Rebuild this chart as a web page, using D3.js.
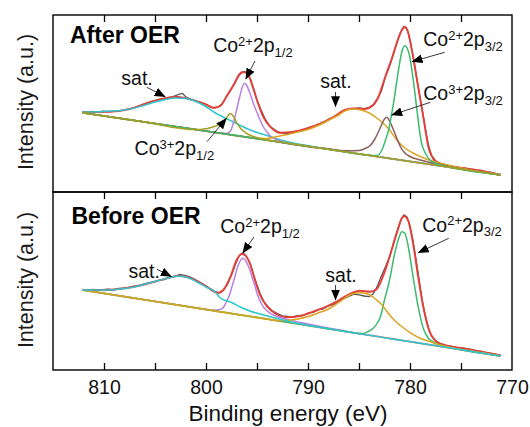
<!DOCTYPE html>
<html>
<head>
<meta charset="utf-8">
<script src="https://cdn.jsdelivr.net/npm/d3@7"></script>
<style>
  html, body { margin: 0; padding: 0; background: #fff; }
  svg { display: block; font-family: "Liberation Sans", Arial, Helvetica, sans-serif; }
</style>
</head>
<body>
<script>
// ---------------- DATA (binding energy eV, intensity a.u.) ----------------
const energyTickLabels = [810, 800, 790, 780, 770];
const energyMinorTicks = [810, 805, 800, 795, 790, 785, 780, 775];

// ----- After OER -----
const afterRaw = [[812.1,80.5],[811.6,79.6],[811.1,80.6],[810.6,79.9],[810.1,80.9],[809.6,80.1],[809.1,80.7],[808.6,81.3],[808.1,81.9],[807.6,83.2],[807.1,84.1],[806.6,85.9],[806.1,87.5],[805.6,89.6],[805.1,91],[804.6,92.6],[804.1,93.6],[803.6,94.5],[803.1,96],[802.6,97.8],[802.3,98.6],[802,95.2],[801.6,93.1],[801.1,91.4],[800.6,90],[800.1,88.1],[799.6,85.6],[799.2,84],[798.8,85.1],[798.4,88.5],[798,95.4],[797.6,101.6],[797.2,108.4],[796.8,116],[796.5,119.2],[796.2,120.6],[795.9,118],[795.6,112],[795.3,102.4],[795,92],[794.6,82],[794.2,73.2],[793.8,66.4],[793.4,63.1],[793,60.4],[792.6,59.2],[792.2,58.4],[791.8,58.8],[791.4,59.4],[791,60.6],[790.5,61.4],[790,64.1],[789.5,65.4],[789,67.6],[788.5,69.8],[788,72.6],[787.5,74.8],[787,78.1],[786.5,81.4],[786,83.1],[785.5,83.4],[785,84.1],[784.5,83.3],[784,84.6],[783.6,87.4],[783.2,93.1],[782.8,101],[782.4,115.6],[782,126],[781.7,135.2],[781.4,146],[781.1,155.2],[780.8,162.2],[780.6,165.6],[780.4,164.2],[780.2,160],[780,151.2],[779.7,136],[779.4,117.2],[779.1,99],[778.8,82.2],[778.5,64],[778.2,47.2],[777.9,37],[777.5,31.2],[777,28.4],[776.5,27.1],[776,25.9],[775.5,25.1],[775,24.4],[774.5,23.4],[774,22.9],[773.5,21.9],[773,21.6],[772.5,20.2],[772,19.6],[771.5,18.1],[771.1,17.6]];
const afterEnvelope = [[812.1,80],[809.6,80.3],[807.6,82.7],[806.3,87],[805,91.3],[803.7,94.3],[803,95.3],[802.1,93.9],[801.1,91.3],[800.1,88],[799.3,84.2],[798.6,86],[798,95.3],[797.3,107],[796.7,118],[796.4,120],[796.1,119.3],[795.85,117],[795.4,104.5],[794.9,88.7],[794.4,75.3],[793.7,65.3],[792.8,59.3],[791.5,60],[790.1,63.7],[788.8,68.5],[787.5,75],[786.4,82],[785.6,83.6],[784.4,83],[783.7,86],[783.1,95],[782.4,116],[781.8,133],[781.3,148.7],[780.8,162],[780.5,165],[780.2,160.3],[779.7,135.3],[779.2,105.3],[778.7,75.3],[778.2,45.3],[777.5,30.8],[776.6,27],[774.6,23.7],[772.6,20.3],[771.1,17]];
const afterBackground = [[812.1,79.2],[806,69.9],[800,60.9],[794,51.8],[788,42.7],[782,33.6],[776,24.6],[771.1,17.1]];
const afterSatHigh = [[812.1,80],[810,80.5],[808,82],[806.3,86],[805,90],[804,92.5],[803,94],[802,93.5],[801,90.5],[800.1,86],[799.3,80.5],[798.6,76.5],[797.3,70],[796,63.5],[795,59.5],[794,56.5],[793,53],[792,50.3],[791,48],[790,46.3],[789,44.5],[788,43],[787,41.3]];
const afterCo2p12 = [[799,59.3],[798,58.6],[797.6,61],[797.4,66],[797.2,73.7],[797,82],[796.7,95.3],[796.4,106],[796.2,108.7],[796,106.5],[795.7,99],[795.36,88.7],[795,79.5],[794.7,72],[794.4,65.5],[794.05,60.3],[793.6,55.3],[792.75,51],[792,49.2],[791,47.3]];
const afterCo3p12 = [[801,62.4],[800.5,62.6],[800,63.2],[799.5,64.5],[799,66],[798.6,67.6],[798.2,71],[797.9,75.5],[797.6,78.6],[797.3,75.5],[797,69.5],[796.6,63.5],[796,58.5],[795.5,56],[795,54.5],[794,52],[793,50.4]];
const afterSatLow = [[796,54.8],[795,53.8],[794,53.5],[793,55.5],[792,57.5],[791,60],[790,62.5],[789,66.5],[788,71.5],[787,77],[786.4,81],[785.6,83],[784.8,82],[784,79],[783,72],[782,62],[781.3,52],[780.5,44],[779.7,39],[779,35.5],[778,31.5],[777,28.7],[776,26.3],[775,24],[774,21.8],[773,20],[772,18.5]];
const afterCo3p32 = [[789,44.2],[788,43.2],[787,41.8],[786,41.2],[785,41.5],[784.4,43.5],[783.9,46.5],[783.5,52],[783.1,60],[782.8,67],[782.5,73],[782.3,74.7],[782,71],[781.7,64],[781.3,54],[780.9,44.5],[780.5,39],[780,35.5],[779,32],[778,29.5],[777,27.2],[776,25],[775,23.1]];
const afterCo2p32 = [[784,36.7],[783.2,36.5],[782.8,41],[782.5,49],[782.1,62],[781.6,90],[781.1,123.7],[780.8,140.3],[780.5,146.3],[780.1,138.7],[779.7,113.7],[779.3,80.3],[778.9,50.3],[778.4,37],[777.9,31],[777,27],[776,24.6]];

// ----- Before OER -----
const beforeRaw = [[812.1,80.5],[811.6,79.7],[811.1,80.6],[810.6,79.8],[810.1,80.4],[809.6,80.8],[809.1,80.2],[808.6,81.5],[808.1,81.8],[807.6,82.6],[807.1,83.8],[806.6,84.2],[806.1,85.8],[805.6,87.2],[805.1,88],[804.6,89.8],[804.1,90.5],[803.6,92.4],[803.1,93.2],[802.6,95.5],[802.1,94.6],[801.6,93.2],[801.1,90.6],[800.6,87.8],[800.1,84.4],[799.6,81.5],[799.1,78.5],[798.7,77.2],[798.3,79.8],[797.9,85.5],[797.5,95],[797.1,106],[796.8,113],[796.5,116.8],[796.2,116],[795.9,111],[795.6,104.5],[795.3,94],[795,85],[794.7,76.5],[794.3,68],[793.9,63],[793.5,59.2],[793,56.5],[792.5,54.2],[792,53.5],[791.5,53],[791,54.3],[790.5,54.5],[790,56.8],[789.5,57.6],[789,60.4],[788.5,61.2],[788,64.2],[787.5,65.5],[787,68.6],[786.5,71.4],[786,73.5],[785.5,75.8],[785,75.2],[784.5,74],[784,73.4],[783.6,76.2],[783.2,84],[782.8,94],[782.4,103.5],[782,113],[781.6,128],[781.2,141],[780.9,150],[780.6,155],[780.3,153],[780,144],[779.7,129],[779.4,110],[779.1,90],[778.8,70],[778.5,54],[778.2,42],[777.9,34],[777.5,29],[777,26.3],[776.5,24.6],[776,23.8],[775.5,22.6],[775,22],[774.5,21.3],[774,20.6],[773.5,19.2],[773,18.6],[772.5,17.2],[772,16.5],[771.5,15.6],[771.1,14.4]];
const beforeEnvelope = [[812.1,80],[810,80],[809,80.5],[808,81.7],[806.3,85],[804.7,89.3],[803.4,93],[802.7,94.3],[801.7,92.5],[800.6,87.3],[799.8,82.5],[799.3,78.8],[798.8,77],[798.3,80],[797.6,93.3],[797,110],[796.5,116],[796.2,115],[795.7,106.7],[795.2,90],[794.7,75],[794,63.3],[793.1,56],[792.1,52.7],[790.8,54],[789.5,58.3],[788.2,63.3],[787.2,68.3],[786.2,74.5],[784.9,79.3],[783.9,78.3],[783.3,80.5],[782.6,95],[782,113.3],[781.3,136.7],[780.8,151.7],[780.6,154],[780.2,150],[779.7,126.7],[779.2,93.3],[778.7,63.3],[778,36.7],[777.1,26.7],[774.8,21.7],[771.1,14.5]];
const beforeBackground = [[812.1,80],[806,70.2],[800,60.5],[794,50.9],[788,41.2],[782,31.6],[776,21.9],[771.1,14]];
const beforeSatHigh = [[812.1,80],[810,80],[809,80.3],[808,81.5],[807,83],[806.3,85],[805.5,87.3],[804.7,89.3],[803.4,92.7],[802.7,94],[801.7,92.3],[800.8,87.5],[800,83],[799.1,78],[798.6,72],[797.5,67.5],[796.7,63.3],[795.7,59],[794.7,56],[793.1,51.7],[792,49],[791,46.5],[790,44.6],[789,43]];
const beforeCo2p12 = [[799.5,59.7],[798.6,60.5],[798.2,64],[798,68.3],[797.7,75],[797.5,81.7],[797.2,92],[797,100],[796.7,108],[796.4,111.7],[796.1,109],[795.9,105],[795.7,100],[795.5,93.3],[795.2,84],[795,76.7],[794.7,69],[794.4,63.3],[794,59],[793.7,56.7],[793,53.5],[792,50.5],[791,48],[790,46],[789,44],[788,42],[787,40.2],[786,38.3],[785,36.5]];
const beforeSatLow = [[794,50.9],[793,49.5],[792,49.5],[791,51],[790,53.5],[789,57],[788,61],[787.5,64],[787,67.5],[786.5,71],[786,74.5],[785.5,76.5],[784.9,77.3],[784.3,76.5],[783.9,75],[783.4,71],[782.9,66.7],[782.4,60.5],[782,55],[781.5,49.5],[781,45],[780.5,41],[780,37.3],[779,31.7],[778,28.3],[777.1,25],[776.1,22.7],[775,20.5],[774,19]];
const beforeCo2p32 = [[786,38],[785,36.5],[784.6,36.5],[784.2,38],[783.6,41.7],[783.2,47],[782.9,53.3],[782.5,70],[782,90],[781.5,116.7],[781.1,131.7],[780.8,138.3],[780.5,136.7],[780.2,125],[779.7,93.3],[779.2,63.3],[778.7,41.7],[778.2,31.7],[777.4,26.7],[776.5,23.5],[775.5,21.2]];

// Label texts
const lblCo2p12 = [["Co"],["2+","sup"],["2p"],["1/2","sub"]];
const lblCo3p12 = [["Co"],["3+","sup"],["2p"],["1/2","sub"]];
const lblCo2p32 = [["Co"],["2+","sup"],["2p"],["3/2","sub"]];
const lblCo3p32 = [["Co"],["3+","sup"],["2p"],["3/2","sub"]];
const lblSat = [["sat."]];

// ---------------- LAYOUT ----------------
const W = 530, H = 427;
const plotLeft = 53, plotRight = 512;
const colors = {
  raw: "#555555", env: "#e53f3a",
  cyan: "#2cc5d0", purple: "#b683e0", olive: "#a4a024",
  gold: "#dca420", brown: "#8d5e5e", green: "#3cba6e"
};

const panels = [
  {
    title: "After OER", top: 15, bottom: 192, yMax: 177,
    titleX: 70, titleY: 43, ylabelCy: 102,
    raw: afterRaw, env: afterEnvelope, bg: afterBackground, bgColor: colors.olive,
    comps: [
      [afterSatHigh, colors.cyan], [afterCo2p12, colors.purple], [afterSatLow, colors.gold],
      [afterCo3p32, colors.brown], [afterCo2p32, colors.green], [afterCo3p12, colors.olive]
    ],
    notes: [
      { parts: lblCo2p12, at: [799.3, 140], from: [795.2, 131], to: [796.1, 113] },
      { parts: lblSat, at: [808.3, 107], from: [805.8, 104.7], to: [804.0, 95.3] },
      { parts: lblCo3p12, at: [807.0, 37], from: [799.9, 50.3], to: [798.0, 73.7] },
      { parts: lblSat, at: [788.8, 104], from: [787.3, 100], to: [787.3, 85.3] },
      { parts: lblCo2p32, at: [778.7, 146], from: [776.6, 139.7], to: [779.8, 130.3] },
      { parts: lblCo3p32, at: [778.7, 92], from: [778.0, 89.7], to: [781.8, 77] }
    ]
  },
  {
    title: "Before OER", top: 192, bottom: 370, yMax: 178,
    titleX: 71.5, titleY: 223.5, ylabelCy: 280,
    raw: beforeRaw, env: beforeEnvelope, bg: beforeBackground, bgColor: colors.gold,
    comps: [
      [beforeCo2p12, colors.purple], [beforeCo2p32, colors.green],
      [beforeSatLow, colors.gold], [beforeSatHigh, colors.cyan]
    ],
    notes: [
      { parts: lblCo2p12, at: [798.6, 136.7], from: [795.3, 133], to: [796.4, 117] },
      { parts: lblSat, at: [807.6, 92.3], from: [804.8, 100.7], to: [803.4, 93.5] },
      { parts: lblSat, at: [788.3, 88.3], from: [787.3, 85], to: [787.3, 70] },
      { parts: lblCo2p32, at: [778.8, 138.3], from: [776.2, 131.7], to: [779.2, 117.3] }
    ]
  }
];

// ---------------- DRAW ----------------
const svg = d3.select("body").append("svg").attr("width", W).attr("height", H);
svg.append("rect").attr("width", W).attr("height", H).attr("fill", "#fff");

const defs = svg.append("defs");
defs.append("marker").attr("id", "ah")
  .attr("viewBox", "0 0 11 9").attr("refX", 10.5).attr("refY", 4.5)
  .attr("markerWidth", 11).attr("markerHeight", 9)
  .attr("markerUnits", "userSpaceOnUse").attr("orient", "auto")
  .append("path").attr("d", "M0,0L11,4.5L0,9Z").attr("fill", "#000");

const x = d3.scaleLinear().domain([815, 770]).range([plotLeft, plotRight]);

// extend a component along its background outside its own range
function fullComponent(comp, bg) {
  const hi = comp[0][0], lo = comp[comp.length - 1][0];
  return bg.filter(d => d[0] > hi + 0.3).concat(comp, bg.filter(d => d[0] < lo - 0.3));
}

panels.forEach((p) => {
  const y = d3.scaleLinear().domain([0, p.yMax]).range([p.bottom, p.top]);
  const g = svg.append("g");
  const smooth = d3.line().x(d => x(d[0])).y(d => y(d[1])).curve(d3.curveMonotoneX);
  const straight = d3.line().x(d => x(d[0])).y(d => y(d[1]));

  g.append("path").attr("d", straight(p.raw)).attr("fill", "none")
    .attr("stroke", colors.raw).attr("stroke-width", 1.3);
  g.append("path").attr("d", smooth(p.bg)).attr("fill", "none")
    .attr("stroke", p.bgColor).attr("stroke-width", 1.8);
  g.append("path").attr("d", smooth(p.env)).attr("fill", "none")
    .attr("stroke", colors.env).attr("stroke-width", 1.9);
  p.comps.forEach(([c, col]) => {
    g.append("path").attr("d", smooth(fullComponent(c, p.bg))).attr("fill", "none")
      .attr("stroke", col).attr("stroke-width", 1.5);
  });

  // frame
  svg.append("rect").attr("x", plotLeft).attr("y", p.top)
    .attr("width", plotRight - plotLeft).attr("height", p.bottom - p.top)
    .attr("fill", "none").attr("stroke", "#000").attr("stroke-width", 1.4);

  // title
  svg.append("text").attr("x", p.titleX).attr("y", p.titleY)
    .attr("font-size", 23).attr("font-weight", "bold").attr("fill", "#000")
    .text(p.title);

  // y label
  svg.append("text")
    .attr("transform", `translate(33,${p.ylabelCy}) rotate(-90)`)
    .attr("text-anchor", "middle").attr("font-size", 21.5).attr("fill", "#1a1a1a")
    .text("Intensity (a.u.)");

  // annotations
  p.notes.forEach(n => {
    const t = svg.append("text").attr("x", x(n.at[0])).attr("y", y(n.at[1]))
      .attr("font-size", 19.5).attr("fill", "#111");
    let shift = 0;
    n.parts.forEach(([s, kind]) => {
      const ts = t.append("tspan").text(s);
      let target = 0;
      if (kind === "sup") { target = -6.5; ts.attr("font-size", 13); }
      else if (kind === "sub") { target = 4.5; ts.attr("font-size", 13); }
      ts.attr("dy", target - shift);
      shift = target;
    });
    svg.append("line")
      .attr("x1", x(n.from[0])).attr("y1", y(n.from[1]))
      .attr("x2", x(n.to[0])).attr("y2", y(n.to[1]))
      .attr("stroke", "#222").attr("stroke-width", 0.9)
      .attr("marker-end", "url(#ah)");
  });
});

// tick marks
const tickStyle = sel => { sel.select(".domain").remove(); sel.selectAll("line").attr("stroke", "#000").attr("stroke-width", 1.3); sel.selectAll("text").remove(); };
svg.append("g").attr("transform", "translate(0,15)")
  .call(d3.axisBottom(x).tickValues(energyMinorTicks).tickSize(7).tickFormat(""))
  .call(tickStyle);
svg.append("g").attr("transform", "translate(0,192)")
  .call(d3.axisBottom(x).tickValues(energyMinorTicks).tickSize(7).tickFormat(""))
  .call(tickStyle);
svg.append("g").attr("transform", "translate(0,370)")
  .call(d3.axisTop(x).tickValues(energyMinorTicks).tickSize(7).tickFormat(""))
  .call(tickStyle);

// tick labels
const lab = svg.append("g").attr("transform", "translate(0,370)")
  .call(d3.axisBottom(x).tickValues(energyTickLabels).tickSize(0).tickPadding(10.5).tickFormat(d3.format("d")));
lab.select(".domain").remove();
lab.selectAll("text").attr("font-size", 19.5).attr("fill", "#111")
  .attr("font-family", "\"Liberation Sans\", Arial, sans-serif");

// x label
svg.append("text").attr("x", 288).attr("y", 420.5).attr("text-anchor", "middle")
  .attr("font-size", 22.5).attr("fill", "#111").text("Binding energy (eV)");
</script>
</body>
</html>
